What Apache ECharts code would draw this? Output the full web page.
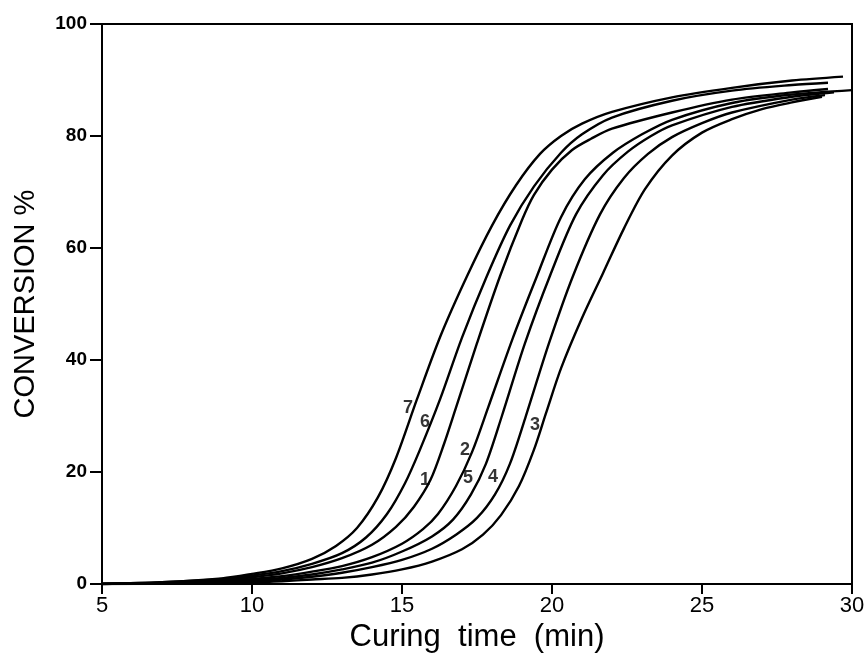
<!DOCTYPE html>
<html>
<head>
<meta charset="utf-8">
<script src="https://cdn.jsdelivr.net/npm/echarts@6/dist/echarts.min.js"></script>
<style>
  html, body { margin: 0; padding: 0; background: #fff; }
  #chart { width: 867px; height: 653px; }
</style>
</head>
<body>
<div id="chart"></div>
<script>
// curing curves, [time (min), conversion %]
var curve7 = [[5,0],[7,0.3],[9,1.0],[10,1.8],[11,2.8],[12,4.5],[12.8,6.8],[13.5,10],[14.2,15.5],[14.8,22.5],[15.5,33],[16.3,44.5],[17.17,55],[18,64],[18.8,71.2],[19.6,76.8],[20.3,80],[21,82.2],[22,84.3],[24,86.9],[26,88.6],[28,89.9],[29.7,90.6]];
var curve6 = [[5,0],[7,0.3],[9,0.9],[10,1.5],[11,2.3],[12,3.6],[13,5.5],[13.8,8.3],[14.5,12.5],[15.1,18],[15.6,24],[16.27,33],[17.0,44],[17.83,55],[18.6,64],[19.4,71],[20.3,77],[21,80.3],[22,83.3],[24,86.3],[26,88.1],[28,89.1],[29.2,89.5]];
var curve1 = [[5,0],[7,0.2],[9,0.7],[10,1.2],[11,1.9],[12,3.0],[13,4.6],[14,7.0],[14.8,10.2],[15.4,13.8],[15.95,18.6],[16.4,25],[16.77,31],[17.5,43],[18.27,55],[19.0,65],[19.4,69.5],[20.0,74],[20.67,77.5],[21.3,79.5],[22,81.3],[24,84.2],[26,86.5],[28,87.8],[29.2,88.4]];
var curve2 = [[5,0],[7,0.2],[9,0.5],[10,0.9],[11,1.4],[12,2.2],[13,3.2],[14,4.8],[15,7.2],[15.7,9.8],[16.2,12.5],[16.8,17.5],[17.33,23.5],[17.87,31.5],[18.7,44],[19.5,55],[20.3,65.5],[21.1,72.3],[22.03,77],[23,80.3],[24,82.9],[26,85.9],[28,87.4],[30,88.2]];
var curve5 = [[5,0],[7,0.2],[9,0.4],[10,0.7],[11,1.1],[12,1.7],[13,2.6],[14,3.8],[15,5.8],[16,8.5],[16.7,11.5],[17.3,16],[17.8,21.5],[18.33,30],[19.1,43],[19.93,55],[20.8,66],[21.7,73],[22.53,77.2],[23.3,80],[24,81.9],[26,85.2],[28,87],[29.4,87.8]];
var curve4 = [[5,0],[7,0.1],[9,0.3],[10,0.5],[11,0.8],[12,1.3],[13,2.0],[14,3.0],[15,4.3],[16,6.3],[16.8,8.8],[17.5,11.8],[18.1,16],[18.6,21.5],[19.1,29.5],[19.9,43],[20.7,55],[21.6,66],[22.4,72.5],[23.2,76.8],[24,79.8],[25,82.3],[26,84.2],[28,86.5],[29.1,87.3]];
var curve3 = [[5,0],[8,0.1],[10,0.3],[11,0.5],[12,0.8],[13,1.1],[14,1.7],[15,2.6],[16,4.0],[17,6.2],[17.7,8.8],[18.3,12.3],[18.9,17.5],[19.4,24],[19.8,30.5],[20.3,38.5],[21,47.5],[21.7,55.5],[22.4,63.5],[23.1,70.5],[24,76.5],[25,80.6],[26,83],[27,84.8],[28,86],[29,87]];

// curve numbers written next to the lines
var labelNames = ['7', '6', '2', '3', '1', '5', '4'];
var labelX = [15.2, 15.77, 17.1, 19.43, 15.77, 17.2, 18.03];
var labelY = [31.4, 28.9, 23.9, 28.4, 18.6, 18.9, 19.1];

var xTicks = [5, 10, 15, 20, 25, 30];
var yTicks = [0, 20, 40, 60, 80, 100];

var chart = echarts.init(document.getElementById('chart'));

var curves = [curve7, curve6, curve1, curve2, curve5, curve4, curve3];
var series = curves.map(function(c) {
  return {
    type: 'line',
    data: c,
    showSymbol: false,
    smooth: 0.3,
    lineStyle: { color: '#000', width: 2.4 },
    silent: true
  };
});

series.push({
  type: 'scatter',
  symbolSize: 0,
  data: labelNames.map(function(n, i) {
    return { name: n, value: [labelX[i], labelY[i]] };
  }),
  label: {
    show: true,
    position: 'inside',
    formatter: '{b}',
    color: '#000',
    fontSize: 18,
    fontWeight: 'bold',
    fontFamily: 'Liberation Sans, sans-serif'
  },
  silent: true
});

var option = {
  animation: false,
  backgroundColor: '#fff',
  grid: {
    left: 102,
    right: 15,
    top: 24,
    bottom: 69,
    containLabel: false,
    outerBoundsMode: 'none',
    show: true,
    borderColor: '#000',
    borderWidth: 2
  },
  xAxis: {
    type: 'value',
    min: 5,
    max: 30,
    interval: 5,
    name: 'Curing  time  (min)',
    nameLocation: 'middle',
    nameGap: 30,
    nameTextStyle: {
      fontSize: 31,
      color: '#000',
      fontFamily: 'Liberation Sans, sans-serif'
    },
    axisLine: { lineStyle: { color: '#000', width: 2 } },
    axisTick: { show: true, length: 10, lineStyle: { color: '#000', width: 2 } },
    axisLabel: {
      color: '#000',
      fontSize: 22,
      margin: 11,
      fontFamily: 'Liberation Sans Narrow, Liberation Sans, sans-serif',
      formatter: function(v) { return xTicks.indexOf(v) >= 0 ? String(v) : ''; }
    },
    splitLine: { show: false }
  },
  yAxis: {
    type: 'value',
    min: 0,
    max: 100,
    interval: 20,
    name: 'CONVERSION %',
    nameLocation: 'middle',
    nameGap: 62,
    nameTextStyle: {
      fontSize: 29,
      color: '#000',
      fontFamily: 'Liberation Sans, sans-serif'
    },
    axisLine: { lineStyle: { color: '#000', width: 2 } },
    axisTick: { show: true, length: 12, lineStyle: { color: '#000', width: 2 } },
    axisLabel: {
      color: '#000',
      fontSize: 19,
      fontWeight: 'bold',
      margin: 15,
      fontFamily: 'Liberation Sans, sans-serif',
      formatter: function(v) { return yTicks.indexOf(v) >= 0 ? String(v) : ''; }
    },
    splitLine: { show: false }
  },
  series: series
};

chart.setOption(option);
</script>
</body>
</html>
